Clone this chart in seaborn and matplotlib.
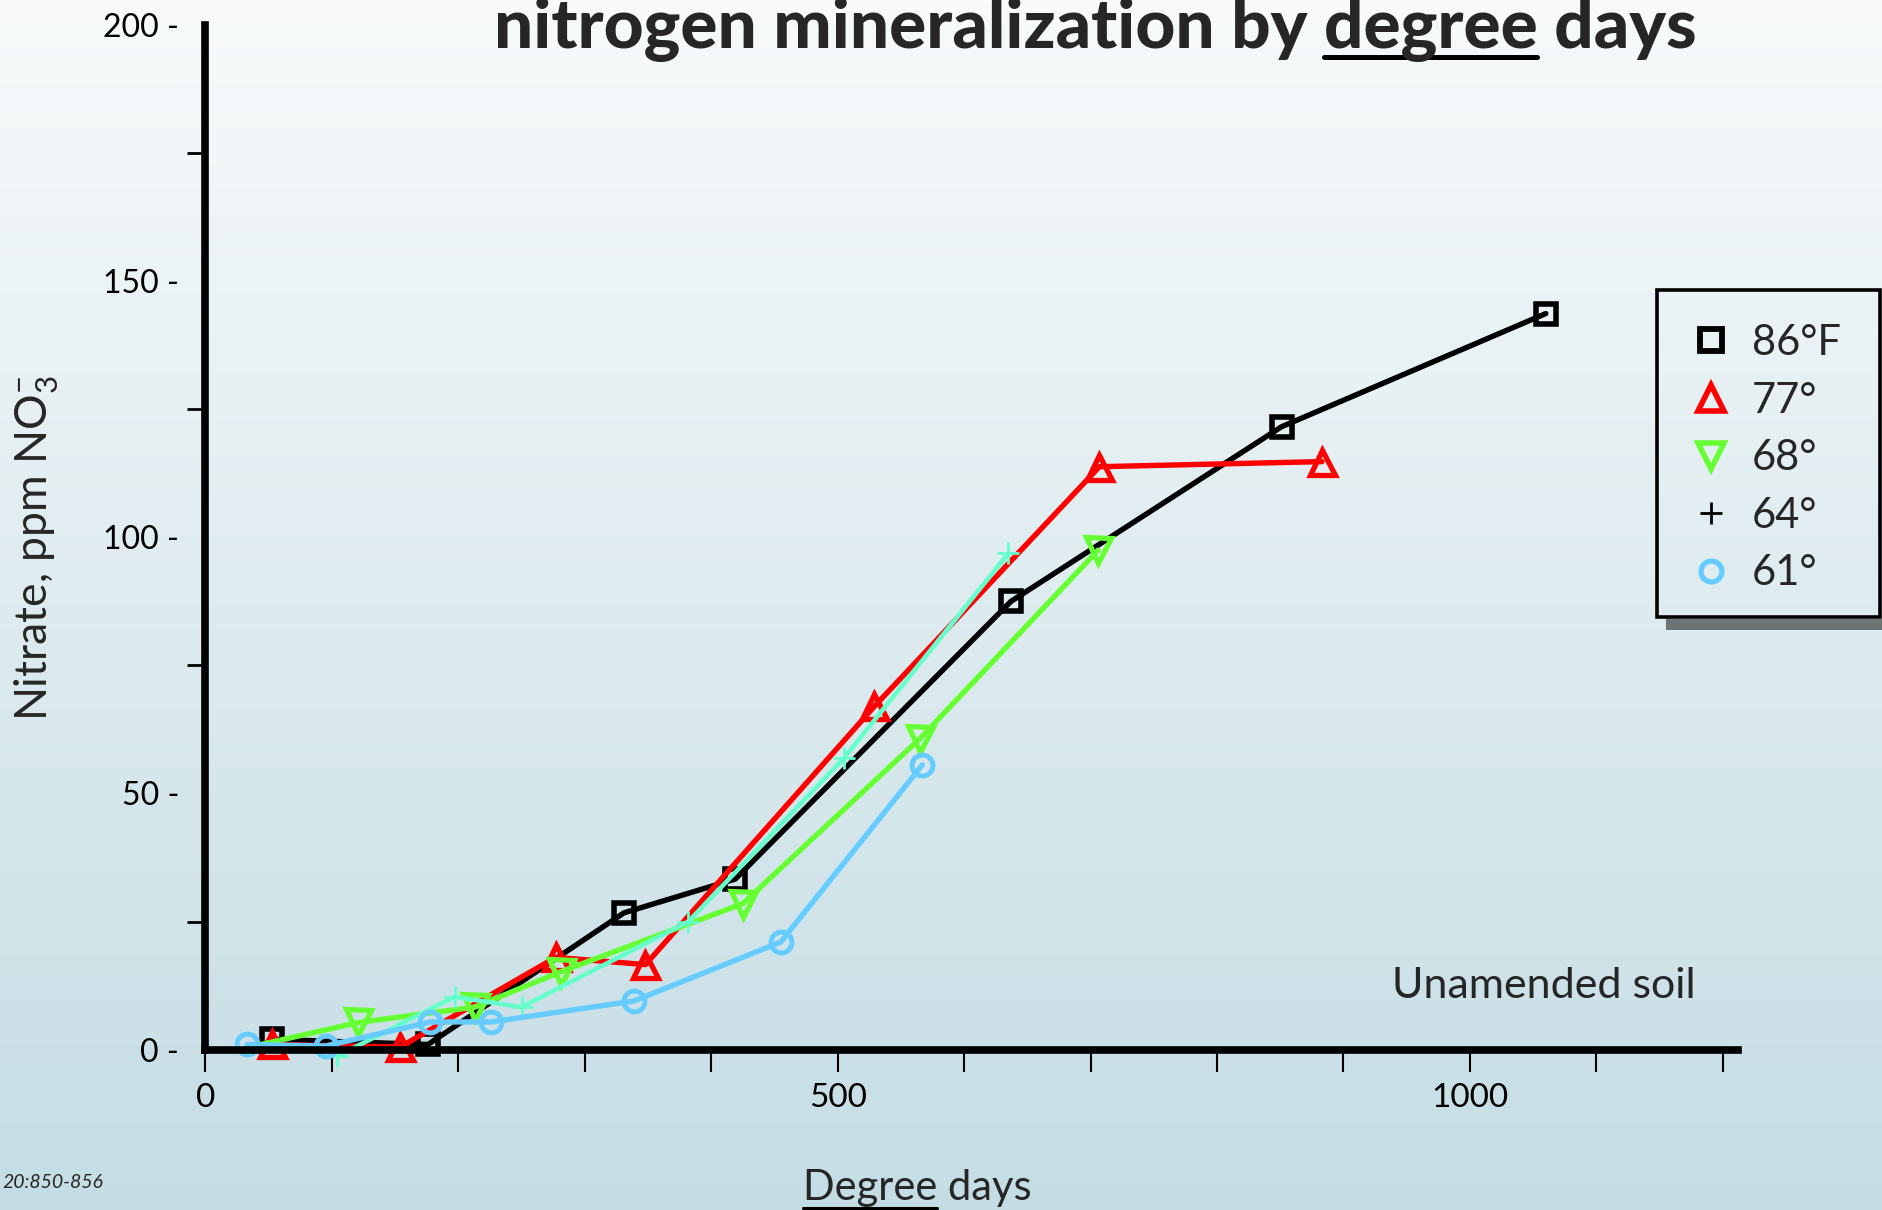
import numpy as np
import pandas as pd
import matplotlib
matplotlib.use("Agg")
import matplotlib.pyplot as plt
from matplotlib.colors import LinearSegmentedColormap
from matplotlib.lines import Line2D
from matplotlib.patches import Rectangle
import seaborn as sns

# Nitrate accumulated vs. degree days, one series per incubation temperature
dd_86 = [53, 176, 331, 419, 637, 851, 1060]
no3_86 = [2.0, 1.0, 26.7, 33.3, 87.5, 121.6, 143.7]

dd_77 = [53, 154, 277, 348, 529, 707, 883]
no3_77 = [1.0, 0.5, 18.0, 16.6, 67.0, 113.8, 114.8]

dd_68 = [44, 121, 213, 281, 425, 565, 706]
no3_68 = [1.0, 5.3, 8.3, 15.2, 28.5, 60.7, 97.5]

dd_64 = [104, 197, 250, 382, 505, 635]
no3_64 = [-1.3, 10.3, 8.3, 25.0, 56.9, 96.9]

dd_61 = [33, 95, 178, 226, 339, 455, 567]
no3_61 = [1.0, 0.7, 5.4, 5.4, 9.5, 21.0, 55.6]

series_labels = ["86°F", "77°", "68°", "64°", "61°"]
y_ticks = [0, 50, 100, 150, 200]
y_tick_labels = ["0 -", "50 -", "100 -", "150 -", "200 -"]
y_minor_ticks = [25, 75, 125, 175]
x_ticks = [0, 100, 200, 300, 400, 500, 600, 700, 800, 900, 1000, 1100, 1200]
x_tick_labels = ["0", "", "", "", "", "500", "", "", "", "", "1000", "", ""]

frames = []
for lab, xs, ys in zip(series_labels,
                       [dd_86, dd_77, dd_68, dd_64, dd_61],
                       [no3_86, no3_77, no3_68, no3_64, no3_61]):
    frames.append(pd.DataFrame({"degree_days": xs, "nitrate": ys, "temp": lab}))
df = pd.concat(frames, ignore_index=True)

sns.set_style("white")
plt.rcParams["font.family"] = ["Lato", "DejaVu Sans"]
plt.rcParams["mathtext.fontset"] = "custom"
plt.rcParams["mathtext.rm"] = "Lato"
plt.rcParams["mathtext.it"] = "Lato:italic"
plt.rcParams["mathtext.bf"] = "Lato:bold"

W, H = 1883, 1210
fig = plt.figure(figsize=(W / 100, H / 100), dpi=100)


def fx(px):
    return px / W


def fy(py):
    return 1 - py / H


# soft vertical gradient behind everything
bg = fig.add_axes([0, 0, 1, 1], zorder=-10)
grad_cmap = LinearSegmentedColormap.from_list("bg", ["#F8FAFB", "#C4DDE4"])
bg.imshow(np.linspace(0, 1, 256).reshape(-1, 1), aspect="auto", cmap=grad_cmap,
          extent=[0, 1, 0, 1], origin="upper")
bg.set_axis_off()

ax = fig.add_axes([fx(205.4), fy(1049.6), fx(1738) - fx(205.4), fy(25.2) - fy(1049.6)])
ax.set_facecolor("none")

styles = {
    "86°F": dict(marker="s", color="black", ms=15, mew=4.0, lw=3.9),
    "77°": dict(marker="^", color="#FF0000", ms=18, mew=3.8, lw=3.9),
    "68°": dict(marker="v", color="#66FF33", ms=18, mew=3.8, lw=3.9),
    "64°": dict(marker="+", color="#66FFCC", ms=16, mew=2.0, lw=3.3),
    "61°": dict(marker="o", color="#66CCFF", ms=15, mew=3.6, lw=3.9),
}

for lab in series_labels:
    st = styles[lab]
    sub = df[df["temp"] == lab]
    extra = {}
    if lab == "68°":
        extra["markevery"] = list(range(1, len(sub)))
    sns.lineplot(data=sub, x="degree_days", y="nitrate", ax=ax, sort=False,
                 estimator=None, legend=False, color=st["color"],
                 marker=st["marker"], markersize=st["ms"],
                 markeredgewidth=st["mew"], markeredgecolor=st["color"],
                 markerfacecolor="none", linewidth=st["lw"], clip_on=False,
                 **extra)

ax.set_xlim(0, 1212)
ax.set_ylim(0, 200)
for side in ["top", "right"]:
    ax.spines[side].set_visible(False)
for side in ["left", "bottom"]:
    ax.spines[side].set_linewidth(5.5)
    ax.spines[side].set_color("black")
    ax.spines[side].set_capstyle("projecting")

ax.set_yticks(y_ticks)
ax.set_yticklabels(y_tick_labels)
ax.set_yticks(y_minor_ticks, minor=True)
ax.tick_params(axis="y", which="major", length=0, pad=19, labelsize=23,
               labelcolor="black", left=True)
ax.tick_params(axis="y", which="minor", length=13, width=2, direction="out",
               color="black", left=True)
ax.set_xticks(x_ticks)
ax.set_xticklabels(x_tick_labels)
ax.tick_params(axis="x", which="major", length=16, width=1.5, direction="out",
               color="black", pad=8, labelsize=24, labelcolor="black", bottom=True)
ax.set_xlabel("")
ax.set_ylabel("")

# axis titles and notes
fig.text(fx(37), fy(548), "Nitrate, ppm NO$_3^{-}$", rotation=90, ha="center",
         va="center", fontsize=32)
fig.text(fx(803), fy(1200), "Degree days", ha="left", va="baseline", fontsize=30)
fig.text(fx(1392), fy(998), "Unamended soil", ha="left", va="baseline", fontsize=31)
fig.text(fx(2), fy(1188), "20:850-856", ha="left", va="baseline", fontsize=14,
         style="italic")

renderer = fig.canvas.get_renderer()


def text_width(s, **kw):
    t = fig.text(0, 0, s, **kw)
    w = t.get_window_extent(renderer).width
    t.remove()
    return w


# title, sized to span its band, with the word "degree" underlined
title = "nitrogen mineralization by degree days"
tkw = dict(fontsize=45, weight="black")
w45 = text_width(title, **tkw)
tkw["fontsize"] = 45 * 1202 / w45
fig.text(fx(1095), fy(48), title, ha="center", va="baseline", **tkw)
w_full = text_width(title, **tkw)
w_tail = text_width("degree days", **tkw)
w_deg = text_width("degree", **tkw)
right = 1095 + w_full / 2
u0 = right - w_tail
fig.add_artist(Line2D([fx(u0), fx(u0 + w_deg)], [fy(57), fy(57)], color="black",
                      lw=3.6, transform=fig.transFigure))

# underline "Degree" in the x-axis title
w_D = text_width("Degree", fontsize=30)
fig.add_artist(Line2D([fx(803), fx(803 + w_D)], [fy(1208), fy(1208)], color="black",
                      lw=2.2, transform=fig.transFigure))

# legend: marker-only handles inside a framed box with a drop shadow
leg_handles = [
    Line2D([], [], ls="none", marker="s", ms=16, mew=4.2, mec="black", mfc="none"),
    Line2D([], [], ls="none", marker="^", ms=19, mew=4.0, mec="#FF0000", mfc="none"),
    Line2D([], [], ls="none", marker="v", ms=19, mew=4.0, mec="#66FF33", mfc="none"),
    Line2D([], [], ls="none", marker="+", ms=16, mew=2.0, mec="black", mfc="none"),
    Line2D([], [], ls="none", marker="o", ms=15, mew=3.8, mec="#66CCFF", mfc="none"),
]
fig.legend(leg_handles, series_labels, loc="upper left",
           bbox_to_anchor=(fx(1700), fy(324)), bbox_transform=fig.transFigure,
           frameon=False, fontsize=30, handlelength=0.55, handletextpad=0.7,
           labelspacing=0.47, borderpad=0, borderaxespad=0)
fig.add_artist(Rectangle((fx(1666), fy(630)), fx(1890) - fx(1666), fy(619) - fy(630),
                         transform=fig.transFigure, color="#6D7476", lw=0))
fig.add_artist(Rectangle((fx(1657), fy(617)), fx(1880) - fx(1657), fy(290) - fy(617),
                         transform=fig.transFigure, fill=False, ec="black", lw=2.6))

fig.savefig("out.png", dpi=100)
